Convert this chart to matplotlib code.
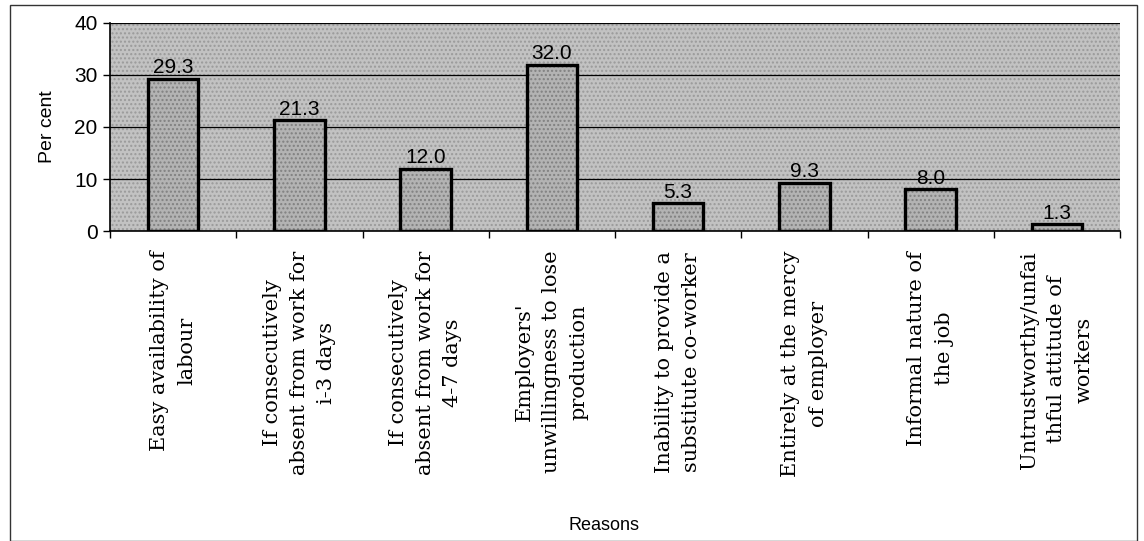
import matplotlib
matplotlib.use("Agg")
import matplotlib.pyplot as plt
from matplotlib.patches import Rectangle

categories = [
    "Easy availability of\nlabour",
    "If consecutively\nabsent from work for\ni-3 days",
    "If consecutively\nabsent from work for\n4-7 days",
    "Employers'\nunwillingness to lose\nproduction",
    "Inability to provide a\nsubstitute co-worker",
    "Entirely at the mercy\nof employer",
    "Informal nature of\nthe job",
    "Untrustworthy/unfai\nthful attitude of\nworkers",
]
values = [29.3, 21.3, 12.0, 32.0, 5.3, 9.3, 8.0, 1.3]
yticks = [0, 10, 20, 30, 40]

W, H = 1144, 541
fig = plt.figure(figsize=(W / 100, H / 100), dpi=100)
fig.patch.set_facecolor("white")

# outer frame
fig.patches.append(Rectangle((10 / W, 0.0), (1137 - 10) / W, (541 - 5) / H,
                             transform=fig.transFigure, fill=False,
                             edgecolor="#333333", linewidth=1.0))

ax = fig.add_axes([110 / W, 1 - 231 / H, (1120 - 110) / W, (231 - 23) / H])
ax.set_facecolor("#c2c2c2")
ax.patch.set_hatch("....")
ax.patch.set_edgecolor("#9a9a9a")

x = list(range(len(values)))
bars = ax.bar(x, values, width=0.4, color="#b3b3b3", edgecolor="black",
              linewidth=2.4, hatch="....", zorder=3)
for b in bars:
    b._hatch_color = (0.5, 0.5, 0.5, 1.0)

for xi, v in zip(x, values):
    ax.text(xi, v + 0.3, f"{v:.1f}", ha="center", va="bottom",
            fontsize=15, family="Liberation Sans", zorder=4)

ax.set_xlim(-0.5, len(values) - 0.5)
ax.set_ylim(0, 40)
ax.set_yticks(yticks)
ax.set_yticklabels([str(t) for t in yticks], fontsize=15, family="Liberation Sans")
ax.yaxis.grid(True, color="black", linewidth=0.9, zorder=1)
ax.set_axisbelow(True)

ax.set_xticks([i + 0.5 for i in range(-1, len(values))], minor=False)
ax.set_xticklabels([])
ax.tick_params(axis="x", direction="out", length=5, width=1)
ax.tick_params(axis="y", direction="out", length=5, width=1, pad=4)

for xi, lab in zip(x, categories):
    ax.text(xi, -0.095, lab, transform=ax.get_xaxis_transform(),
            rotation=90, ha="center", va="top", multialignment="center",
            fontsize=15, family="DejaVu Serif", linespacing=1.55)

for s in ["top", "right"]:
    ax.spines[s].set_visible(False)
ax.spines["left"].set_linewidth(1.2)
ax.spines["bottom"].set_linewidth(1.2)

ax.set_ylabel("Per cent", fontsize=14, family="Liberation Sans", labelpad=13)
fig.text(604 / W, 1 - 525 / H, "Reasons", ha="center", va="center",
         fontsize=13, family="Liberation Sans")

fig.savefig("out.png", dpi=100)
